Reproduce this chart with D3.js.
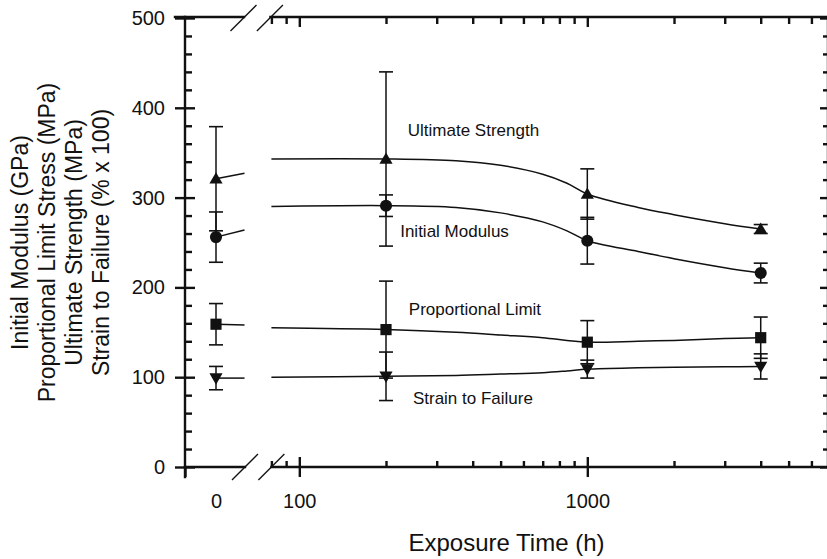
<!DOCTYPE html>
<html><head><meta charset="utf-8">
<script src="https://cdn.jsdelivr.net/npm/d3@7"></script>
<style>
body{margin:0;background:#fff}
text{font-family:"Liberation Sans",Arial,Helvetica,sans-serif;fill:#111}
</style>
</head><body>
<svg id="chart" width="827" height="559"></svg>
<script>
// ---- data ----
const times = [0, 200, 1000, 4000];
const ultimateStrength = [321, 343, 304, 265];
const ultimateErr      = [58, 97, 28, 5];
const initialModulus   = [256, 291, 252, 216];
const modulusErr       = [28, 12, 26, 11];
const proportionalLimit= [159, 153, 139, 144];
const proportionalErr  = [23, 54, 24, 23];
const strainToFailure  = [99, 101, 109, 112];
const strainErr        = [13, 27, 10, 14];

// fitted curves on the log segment
const fitTimes        = [80, 200, 350, 500, 700, 850, 1000, 1500, 2000, 3000, 4000];
const ultimateFit     = [343, 343, 341, 336, 326, 316, 304, 289, 281, 271, 265];
const modulusFit      = [290, 291, 289, 283, 273, 263, 252, 240, 232, 222, 216];
const proportionalFit = [155, 153, 150, 147, 144, 141, 139, 140, 141, 143, 144];
const strainFit       = [100, 101, 102, 103.5, 105, 107, 109, 110.5, 111, 111.5, 112];
// short fitted stubs on the t = 0 segment (value at 0, value at the break)
const ultimateStub     = [321, 327];
const modulusStub      = [256, 264];
const proportionalStub = [159, 158];
const strainStub       = [99, 99];

const seriesNames = ["Ultimate Strength", "Initial Modulus", "Proportional Limit", "Strain to Failure"];
const yTicks = [0, 100, 200, 300, 400, 500];
const xLogLabels = [100, 1000];
const xLogMinor = [80, 90, 200, 300, 400, 500, 600, 700, 800, 900, 2000, 3000, 4000, 5000, 6000];
const yTitleLines = ["Initial Modulus (GPa)", "Proportional Limit Stress (MPa)", "Ultimate Strength (MPa)", "Strain to Failure (% x 100)"];
const xTitle = "Exposure Time (h)";

// ---- layout ----
const L = 185, R = 828, T = 18, B = 467;
const breakA = 245, breakB = 271.4;
const svg = d3.select("#chart");

const xLeft = d3.scaleLinear().domain([-1, 1]).range([L, 247]);
const stubEnd = 0.92;
const xLog = d3.scaleLog().domain([80, 6850]).range([breakB, R]);
const y = d3.scaleLinear().domain([0, 500]).range([B, T]);
const xT = t => t === 0 ? xLeft(0) : xLog(t);

const AX = 2.4;
function styleAxis(g){ g.select(".domain").remove(); g.selectAll(".tick line").attr("stroke","#111").attr("stroke-width",AX); }

// y axis left: major crossing, minor inward, labels
const yMinor = d3.range(0, 501, 20).filter(v => v % 100 !== 0);
svg.append("g").attr("transform",`translate(${L-10},0)`).call(d3.axisRight(y).tickValues(yTicks).tickSize(20).tickFormat("")).call(styleAxis);
svg.append("g").attr("transform",`translate(${L},0)`).call(d3.axisRight(y).tickValues(yMinor).tickSize(7).tickFormat("")).call(styleAxis);
const yl = svg.append("g").attr("transform",`translate(${L},0)`).call(d3.axisLeft(y).tickValues(yTicks).tickSize(0).tickPadding(20));
yl.select(".domain").remove();
yl.selectAll("text").style("font-size","20px").style("font-family","'Liberation Sans',Arial,sans-serif").attr("fill","#111");

// right axis ticks (inward)
svg.append("g").attr("transform",`translate(${R},0)`).call(d3.axisLeft(y).tickValues(yTicks).tickSize(8).tickFormat("")).call(styleAxis);
svg.append("g").attr("transform",`translate(${R},0)`).call(d3.axisLeft(y).tickValues(yMinor).tickSize(5).tickFormat("")).call(styleAxis);

// top axis ticks (inward)
svg.append("g").attr("transform",`translate(0,${T-1})`).call(d3.axisBottom(xLog).tickValues(xLogLabels).tickSize(10).tickFormat("")).call(styleAxis);
svg.append("g").attr("transform",`translate(0,${T-1})`).call(d3.axisBottom(xLog).tickValues(xLogMinor).tickSize(7).tickFormat("")).call(styleAxis);

// bottom axis ticks
svg.append("g").attr("transform",`translate(0,${B-10})`).call(d3.axisBottom(xLog).tickValues(xLogLabels).tickSize(20).tickFormat("")).call(styleAxis);
svg.append("g").attr("transform",`translate(0,${B})`).call(d3.axisTop(xLog).tickValues(xLogMinor).tickSize(6).tickFormat("")).call(styleAxis);
svg.append("g").attr("transform",`translate(0,${B})`).call(d3.axisBottom(xLeft).tickValues([-1]).tickSize(10).tickFormat("")).call(styleAxis);
// bottom labels
const xl1 = svg.append("g").attr("transform",`translate(0,${B})`).call(d3.axisBottom(xLog).tickValues(xLogLabels).tickSize(0).tickPadding(27).tickFormat(d3.format("d")));
const xl0 = svg.append("g").attr("transform",`translate(0,${B})`).call(d3.axisBottom(xLeft).tickValues([0]).tickSize(0).tickPadding(27).tickFormat(d3.format("d")));
[xl1, xl0].forEach(g => { g.select(".domain").remove(); g.selectAll("text").style("font-size","20px").style("font-family","'Liberation Sans',Arial,sans-serif").attr("fill","#111"); });

// axis lines with break
const axLines = [
  [L, B+10, L, T-1], [R, B, R, T-1],
  [L, B, breakA, B], [breakB, B, R, B],
  [L-10, T-1, breakA-1, T-1], [breakB-1, T-1, R, T-1]
];
svg.append("g").selectAll("line").data(axLines).join("line")
  .attr("x1",d=>d[0]).attr("y1",d=>d[1]).attr("x2",d=>d[2]).attr("y2",d=>d[3])
  .attr("stroke","#111").attr("stroke-width",AX).attr("stroke-linecap","square");
// break slashes
const slashes = [[breakA, B], [breakB, B], [breakA-1.5, T], [breakB-1.5, T]];
svg.append("g").selectAll("line").data(slashes).join("line")
  .attr("x1",d=>d[0]-13).attr("y1",d=>d[1]+13).attr("x2",d=>d[0]+13).attr("y2",d=>d[1]-13)
  .attr("stroke","#111").attr("stroke-width",1.3);

// ---- series ----
const series = [
  {vals: ultimateStrength, err: ultimateErr, fit: ultimateFit, stub: ultimateStub, sym: d3.symbolTriangle, size: 75, rot: 0},
  {vals: initialModulus, err: modulusErr, fit: modulusFit, stub: modulusStub, sym: d3.symbolCircle, size: 115, rot: 0},
  {vals: proportionalLimit, err: proportionalErr, fit: proportionalFit, stub: proportionalStub, sym: d3.symbolSquare, size: 125, rot: 0},
  {vals: strainToFailure, err: strainErr, fit: strainFit, stub: strainStub, sym: d3.symbolTriangle, size: 75, rot: 180}
];
const line = d3.line().curve(d3.curveCatmullRom.alpha(0.5));
const gS = svg.append("g");
series.forEach(s => {
  gS.append("path").attr("d", line(fitTimes.map((t,i)=>[xLog(t), y(s.fit[i])])))
    .attr("fill","none").attr("stroke","#111").attr("stroke-width",1.5);
  gS.append("path").attr("d", d3.line()([[xLeft(0), y(s.stub[0])],[xLeft(stubEnd), y(s.stub[1])]]))
    .attr("fill","none").attr("stroke","#111").attr("stroke-width",1.5);
  times.forEach((t,i) => {
    const cx = xT(t), lo = y(s.vals[i]-s.err[i]), hi = y(s.vals[i]+s.err[i]);
    gS.append("line").attr("x1",cx).attr("x2",cx).attr("y1",lo).attr("y2",hi).attr("stroke","#111").attr("stroke-width",1.5);
    [lo,hi].forEach(yy => gS.append("line").attr("x1",cx-7).attr("x2",cx+7).attr("y1",yy).attr("y2",yy).attr("stroke","#111").attr("stroke-width",1.6));
  });
});
series.forEach(s => {
  times.forEach((t,i) => {
    gS.append("path").attr("d", d3.symbol(s.sym, s.size)())
      .attr("transform",`translate(${xT(t)},${y(s.vals[i]) + (s.sym===d3.symbolTriangle ? (s.rot?-1:1) : 0)}) rotate(${s.rot})`)
      .attr("fill","#111");
  });
});

// series annotations (in data units)
const labelAt = [[238, 375], [224, 263], [240, 176], [248, 77]];
svg.append("g").selectAll("text").data(seriesNames).join("text")
  .attr("x",(d,i)=>xLog(labelAt[i][0])).attr("y",(d,i)=>y(labelAt[i][1]))
  .attr("dy","0.35em").style("font-size","17px").text(d=>d);

// axis titles
svg.append("text").attr("x",(L+R)/2).attr("y",551).attr("text-anchor","middle").style("font-size","24px").text(xTitle);
const yt = svg.append("g");
yTitleLines.forEach((t,i) => {
  const cx = 20 + i*27, cy = (T+B)/2;
  yt.append("text").attr("transform",`translate(${cx},${cy}) rotate(-90)`).attr("text-anchor","middle")
    .attr("dy","0.35em").style("font-size","23px").text(t);
});
</script>
</body></html>
